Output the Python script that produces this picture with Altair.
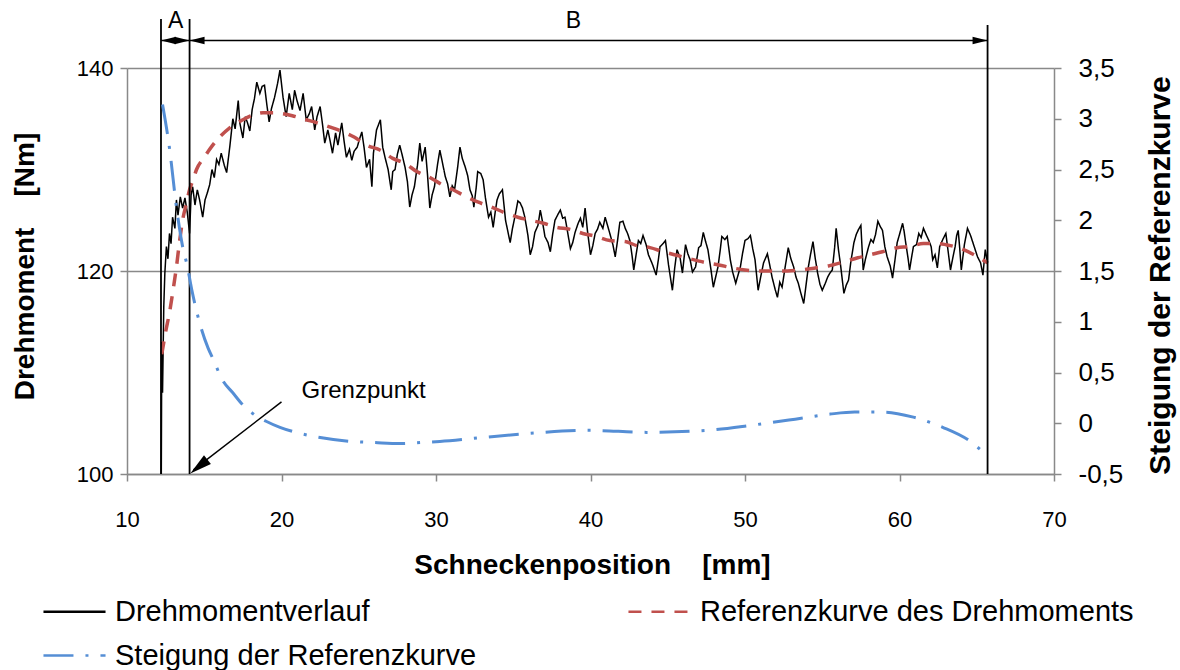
import altair as alt
import pandas as pd

# ---------------- data ----------------
torque_x = [
    12.22, 12.25, 12.30, 12.38, 12.45, 12.55, 12.65, 12.75, 12.85, 12.95,
    13.10, 13.20, 13.30, 13.45, 13.60, 13.75, 13.90, 14.05, 14.15, 14.25,
    14.40, 14.55, 14.70, 14.90, 15.05, 15.20, 15.35, 15.50, 15.65, 15.80,
    15.95, 16.10, 16.30, 16.45, 16.65, 16.85, 17.00, 17.20, 17.30, 17.50,
    17.65, 17.80, 17.95, 18.10, 18.25, 18.40, 18.60, 18.75, 18.90, 19.05,
    19.20, 19.35, 19.55, 19.75, 19.90, 20.10, 20.30, 20.50, 20.70, 20.85,
    21.00, 21.20, 21.40, 21.60, 21.80, 21.95, 22.15, 22.30, 22.50, 22.65,
    22.80, 23.00, 23.15, 23.30, 23.50, 23.65, 23.90, 24.05, 24.20, 24.40,
    24.55, 24.70, 24.90, 25.05, 25.20, 25.35, 25.50, 25.70, 25.85, 25.95,
    26.15, 26.40, 26.55, 26.70, 26.90, 27.10, 27.20, 27.35, 27.50, 27.65,
    27.80, 28.00, 28.15, 28.30, 28.45, 28.60, 28.80, 28.95, 29.10, 29.30,
    29.45, 29.60, 29.75, 29.90, 30.10, 30.25, 30.40, 30.60, 30.75, 30.90,
    31.05, 31.20, 31.40, 31.55, 31.70, 31.90, 32.05, 32.20, 32.35, 32.45,
    32.60, 32.70, 32.90, 33.05, 33.20, 33.40, 33.55, 33.70, 33.85, 33.95,
    34.10, 34.30, 34.40, 34.50, 34.65, 34.80, 34.95, 35.10, 35.30, 35.45,
    35.60, 35.75, 35.95, 36.10, 36.25, 36.40, 36.60, 36.75, 36.90, 37.05,
    37.25, 37.40, 37.55, 37.70, 37.90, 38.05, 38.20, 38.35, 38.50, 38.70,
    38.85, 39.00, 39.20, 39.35, 39.50, 39.65, 39.80, 40.00, 40.15, 40.30,
    40.45, 40.60, 40.80, 40.95, 41.10, 41.25, 41.45, 41.60, 41.75, 41.90,
    42.10, 42.25, 42.40, 42.55, 42.70, 42.80, 42.95, 43.10, 43.25, 43.40,
    43.60, 43.75, 44.00, 44.25, 44.40, 44.50, 44.70, 44.85, 45.05, 45.30,
    45.45, 45.60, 45.80, 45.95, 46.15, 46.30, 46.45, 46.60, 46.80, 47.00,
    47.15, 47.30, 47.45, 47.60, 47.80, 47.95, 48.10, 48.25, 48.40, 48.50,
    48.70, 48.85, 49.05, 49.20, 49.40, 49.55, 49.70, 49.85, 50.00, 50.20,
    50.35, 50.50, 50.65, 50.85, 51.00, 51.20, 51.45, 51.60, 51.75, 51.95,
    52.10, 52.25, 52.40, 52.60, 52.80, 52.95, 53.15, 53.30, 53.45, 53.60,
    53.80, 53.95, 54.10, 54.25, 54.40, 54.55, 54.70, 54.85, 55.00, 55.20,
    55.35, 55.50, 55.65, 55.80, 55.90, 56.05, 56.20, 56.40, 56.55, 56.70,
    56.85, 57.05, 57.20, 57.35, 57.50, 57.65, 57.80, 58.00, 58.15, 58.30,
    58.45, 58.60, 58.75, 58.90, 59.05, 59.20, 59.40, 59.55, 59.70, 59.85,
    60.00, 60.20, 60.30, 60.40, 60.55, 60.65, 60.80, 60.90, 61.10, 61.25,
    61.40, 61.55, 61.75, 61.90, 62.05, 62.15, 62.30, 62.45, 62.60, 62.80,
    63.00, 63.15, 63.30, 63.45, 63.60, 63.70, 63.80, 63.90, 64.00, 64.20,
    64.40, 64.60, 64.75, 64.90, 65.05, 65.25, 65.40, 65.55, 65.70,
]
torque_y = [
    100.0, 113.0, 108.0, 116.5, 119.8, 122.4, 121.2, 123.7, 122.7, 125.3,
    124.2, 127.0, 125.5, 127.3, 126.2, 127.2, 125.8, 123.7, 127.5, 128.3,
    126.5, 128.0, 127.0, 125.3, 127.0, 127.7, 128.5, 130.0, 129.2, 131.0,
    130.5, 131.6, 130.4, 129.7, 132.2, 135.0, 134.0, 136.8, 134.6, 133.1,
    135.2, 134.6, 133.8, 135.9, 137.0, 138.6, 137.5, 138.2, 138.3, 136.4,
    134.7, 136.0, 137.1, 138.5, 139.8, 137.1, 135.2, 137.5, 135.9, 137.8,
    136.8, 135.8, 137.5, 134.9, 135.5, 136.2, 133.9, 135.2, 136.2, 134.5,
    132.6, 133.9, 132.8, 131.6, 133.6, 132.4, 134.6, 132.8, 131.2, 132.0,
    130.9, 131.8, 132.2, 133.0, 133.7, 132.1, 130.2, 131.0, 128.3, 131.6,
    133.9, 134.9, 132.2, 131.2, 130.0, 128.0, 129.8, 130.0, 131.5, 132.4,
    131.5, 130.2, 128.8, 126.3, 127.5, 128.3, 130.4, 132.6, 130.8, 132.2,
    129.5, 126.2, 127.5, 128.3, 130.5, 131.9, 130.8, 129.3, 128.6, 127.3,
    128.4, 128.0, 130.2, 132.2, 131.1, 130.2, 129.4, 128.0, 127.4, 126.3,
    128.2, 129.8, 129.6, 129.0, 127.2, 125.3, 125.8, 124.3, 126.0, 127.0,
    127.6, 128.0, 126.5, 125.0, 123.9, 122.8, 124.2, 125.3, 126.9, 126.7,
    126.2, 125.3, 123.5, 121.6, 122.4, 123.8, 124.5, 126.0, 124.8, 123.4,
    122.8, 121.9, 123.6, 125.0, 125.6, 126.0, 125.2, 125.3, 124.0, 122.2,
    122.8, 123.8, 124.7, 125.2, 124.3, 126.2, 124.0, 121.6, 122.5, 123.7,
    124.1, 124.8, 124.2, 125.3, 124.5, 123.7, 122.6, 121.4, 123.0, 124.8,
    124.9, 124.2, 123.7, 123.0, 121.4, 120.1, 121.6, 123.0, 122.7, 123.5,
    122.6, 121.6, 120.7, 119.6, 121.2, 122.4, 122.7, 123.0, 120.6, 118.1,
    120.3, 122.1, 121.3, 119.8, 122.6, 121.7, 121.1, 119.9, 120.4, 122.3,
    122.5, 123.8, 122.9, 122.1, 120.1, 118.4, 119.4, 120.4, 122.1, 123.4,
    123.1, 123.4, 121.1, 119.9, 118.8, 119.6, 120.4, 121.8, 123.0, 123.2,
    123.5, 122.2, 121.1, 118.1, 119.3, 120.8, 121.7, 120.6, 119.4, 118.2,
    117.4, 118.9, 118.4, 120.4, 122.3, 121.3, 120.4, 119.4, 118.8, 117.9,
    116.8, 118.6, 120.4, 121.7, 122.9, 121.2, 119.8, 118.7, 118.1, 118.8,
    119.4, 119.8, 120.1, 122.3, 124.2, 122.1, 120.4, 117.8, 118.6, 119.1,
    120.9, 122.8, 123.6, 124.1, 124.5, 120.1, 121.2, 122.4, 123.1, 122.8,
    123.6, 124.9, 124.4, 124.0, 122.4, 121.4, 120.5, 119.3, 121.0, 122.8,
    123.6, 124.7, 123.9, 122.8, 121.3, 120.1, 121.5, 122.4, 122.6, 123.7,
    123.3, 124.2, 123.5, 123.0, 122.4, 121.1, 121.6, 120.3, 122.4, 123.1,
    123.7, 121.9, 120.1, 121.3, 122.4, 123.5, 124.0, 122.2, 120.1, 122.6,
    124.2, 123.5, 122.8, 122.1, 121.4, 120.8, 119.6, 122.1, 120.8,
]

ref_x = [12.25, 12.5, 12.75, 13.0, 13.2, 13.4, 13.6, 13.85, 14.05, 14.3,
         14.5, 15.0, 15.5, 16.0, 16.65, 17.5, 18.2, 18.8, 19.55, 20.1,
         20.7, 21.6, 22.3, 23.1, 24.0, 24.7, 25.5, 26.4, 27.2, 28.0,
         28.75, 29.5, 30.4, 31.1, 32.0, 32.7, 33.6, 34.35, 35.3, 36.1,
         36.95, 37.8, 38.7, 39.5, 40.4, 41.25, 42.25, 43.0, 43.85, 44.7,
         45.7, 46.45, 47.55, 48.3, 49.2, 50.0, 51.0, 51.85, 52.75, 53.6,
         54.55, 55.4, 56.4, 57.3, 58.1, 58.9, 59.85, 60.6, 61.55, 62.45,
         63.3, 64.15, 65.05, 65.7]
ref_y = [111.8, 114.0, 115.9, 118.3, 120.4, 122.9, 125.0, 126.7, 128.0, 129.1,
         130.0, 131.2, 132.3, 133.2, 134.1, 134.9, 135.4, 135.6, 135.6, 135.5,
         135.3, 134.9, 134.6, 134.2, 133.7, 133.2, 132.4, 131.9, 131.1, 130.6,
         129.8, 129.3, 128.5, 128.0, 127.3, 126.8, 126.3, 125.8, 125.3, 125.0,
         124.7, 124.3, 124.1, 123.7, 123.4, 123.0, 122.9, 122.5, 122.3, 121.9,
         121.5, 121.2, 120.8, 120.6, 120.3, 120.1, 120.0, 120.0, 120.0, 120.1,
         120.3, 120.5, 120.9, 121.3, 121.6, 121.9, 122.3, 122.4, 122.7, 122.7,
         122.5, 122.1, 121.4, 120.8]

slope_x = [12.3, 12.75, 13.2, 13.6, 13.9, 14.2, 14.7, 15.25, 15.55, 16.2,
           16.85, 17.5, 18.1, 19.0, 19.9, 21.2, 22.5, 24.6, 26.0, 27.65,
           29.0, 30.25, 33.05, 36.06, 39.9, 43.7, 47.5, 50.4, 53.25, 55.5,
           57.1, 59.0, 60.9, 62.8, 64.5, 65.6]
slope_y = [3.14, 2.71, 2.13, 1.74, 1.55, 1.31, 0.99, 0.74, 0.64, 0.42,
           0.30, 0.18, 0.10, 0.02, -0.04, -0.10, -0.14, -0.18, -0.19, -0.20,
           -0.19, -0.18, -0.14, -0.10, -0.07, -0.09, -0.07, -0.02, 0.04, 0.09,
           0.11, 0.11, 0.06, -0.04, -0.17, -0.31]

S_TORQUE = "Drehmomentverlauf"
S_REF = "Referenzkurve des Drehmoments"
S_SLOPE = "Steigung der Referenzkurve"
# legend order (filled column by column: left column first)
series = [S_TORQUE, S_SLOPE, S_REF]
x_ticks = [10, 20, 30, 40, 50, 60, 70]
left_ticks = [100, 120, 140]
right_ticks = [-0.5, 0, 0.5, 1, 1.5, 2, 2.5, 3, 3.5]

# annotation definitions (data units)
bounds_x = [12.2, 14.05, 65.7]
bounds_top = [144.83, 144.83, 144.24]
span_y = 142.7
head_x = [12.2, 14.05, 14.05, 65.7]
head_angle = [270, 90, 270, 90]
zone_labels = ["A", "B"]
zone_x = [13.15, 38.9]
zone_y = 144.6

# ---------------- styles ----------------
FONT = "Liberation Sans"
GRAY = "#898989"
COLORS = ["#000000", "#558ED5", "#C0504D"]
DASHES = [[1, 0], [30, 12, 3, 12], [13, 10]]
ARROW = "M0,0L-0.5,2L0.5,2Z"

W, H = 927, 406
PL, PT = 127, 68

df_t = pd.DataFrame({"x": torque_x, "y": torque_y, "s": S_TORQUE})
df_r = pd.DataFrame({"x": ref_x, "y": ref_y, "s": S_REF})
df_s = pd.DataFrame({"x": slope_x, "y": slope_y, "s": S_SLOPE})

x_enc = alt.X(
    "x:Q",
    scale=alt.Scale(domain=[10, 70], nice=False, zero=False),
    axis=alt.Axis(
        values=x_ticks, grid=False, domainColor=GRAY, tickColor=GRAY,
        domainWidth=1.5, tickWidth=1.5, tickSize=7, labelFontSize=22,
        labelPadding=28, labelColor="black", labelFont=FONT, labelFlush=False,
        title="Schneckenposition\u00a0\u00a0\u00a0\u00a0[mm]", titleFont=FONT,
        titleFontSize=28, titleFontWeight="bold", titleColor="black",
        titleX=465, titleY=91, titleBaseline="middle", titleAlign="center",
    ),
)

y_left = alt.Y(
    "y:Q",
    scale=alt.Scale(domain=[100, 140], nice=False, zero=False),
    axis=alt.Axis(
        values=left_ticks, grid=True, gridColor=GRAY, gridWidth=1.5,
        domainColor=GRAY, tickColor=GRAY, domainWidth=1.5, tickWidth=1.5,
        tickSize=7, labelFontSize=22, labelPadding=7, labelColor="black",
        labelFont=FONT, labelFlush=False,
        title="Drehmoment\u00a0\u00a0\u00a0\u00a0[Nm]", titleFont=FONT,
        titleFontSize=28, titleFontWeight="bold", titleColor="black",
        titleAngle=270, titleX=-102, titleY=198, titleBaseline="middle",
        titleAlign="center",
    ),
)

y_right = alt.Y(
    "y:Q",
    scale=alt.Scale(domain=[-0.5, 3.5], nice=False, zero=False),
    axis=alt.Axis(
        orient="right", values=right_ticks, grid=False, labelFlush=False,
        labelExpr="replace(toString(datum.value), '.', ',')",
        domainColor=GRAY, tickColor=GRAY, domainWidth=1.5, tickWidth=1.5,
        tickSize=7, labelFontSize=26, labelPadding=17, labelColor="black",
        labelFont=FONT,
        title="Steigung der Referenzkurve", titleFont=FONT, titleFontSize=30,
        titleFontWeight="bold", titleColor="black", titleAngle=270,
        titleX=106, titleY=207, titleBaseline="middle", titleAlign="center",
    ),
)

legend = alt.Legend(
    title=None, orient="none", legendX=-67, legendY=529, columns=2,
    symbolType="M-3,0L3,0", symbolSize=428, symbolStrokeWidth=2.5,
    labelFontSize=29, labelFont=FONT, labelColor="black", labelLimit=0,
    labelOffset=26, rowPadding=14, columnPadding=146, padding=0,
)
color_enc = alt.Color("s:N", scale=alt.Scale(domain=series, range=COLORS), legend=legend)
dash_enc = alt.StrokeDash("s:N", scale=alt.Scale(domain=series, range=DASHES), legend=legend)

black = alt.Chart(df_t).mark_line(strokeWidth=1.5).encode(
    x=x_enc, y=y_left, color=color_enc, strokeDash=dash_enc)
red = alt.Chart(df_r).mark_line(strokeWidth=3.5, interpolate="monotone").encode(
    x=x_enc, y=y_left, color=color_enc, strokeDash=dash_enc)
blue = alt.Chart(df_s).mark_line(strokeWidth=3, interpolate="monotone").encode(
    x=x_enc, y=y_right, color=color_enc, strokeDash=dash_enc)

df_b = pd.DataFrame({"x": bounds_x, "y": [100] * 3, "y2": bounds_top})
bounds = alt.Chart(df_b).mark_rule(color="black", strokeWidth=1.8).encode(
    x=x_enc, y=y_left, y2="y2:Q")

df_span = pd.DataFrame({"x": [bounds_x[0]], "x2": [bounds_x[2]], "y": [span_y]})
span = alt.Chart(df_span).mark_rule(color="black", strokeWidth=1.5).encode(
    x=x_enc, x2="x2:Q", y=y_left)

df_h = pd.DataFrame({"x": head_x, "y": [span_y] * 4, "a": head_angle})
heads = alt.Chart(df_h).mark_point(
    shape=ARROW, filled=True, color="black", opacity=1, size=225, strokeWidth=0
).encode(x=x_enc, y=y_left, angle=alt.Angle("a:Q", scale=None))

df_z = pd.DataFrame({"x": zone_x, "y": [zone_y] * 2, "t": zone_labels})
zones = alt.Chart(df_z).mark_text(
    font=FONT, fontSize=23, color="black", baseline="middle", align="center"
).encode(x=x_enc, y=y_left, text="t:N")

df_g = pd.DataFrame({"x": [21.3], "y": [107.5], "t": ["Grenzpunkt"]})
gtext = alt.Chart(df_g).mark_text(
    font=FONT, fontSize=24, color="black", baseline="alphabetic", align="left"
).encode(x=x_enc, y=y_left, text="t:N")

df_gl = pd.DataFrame({"x": [20.0], "y": [107.1], "x2": [14.3], "y2": [100.4]})
gline = alt.Chart(df_gl).mark_rule(color="black", strokeWidth=1.5).encode(
    x=x_enc, y=y_left, x2="x2:Q", y2="y2:Q")

df_gh = pd.DataFrame({"x": [14.1], "y": [100.05], "a": [231]})
ghead = alt.Chart(df_gh).mark_point(
    shape=ARROW, filled=True, color="black", opacity=1, size=484, strokeWidth=0
).encode(x=x_enc, y=y_left, angle=alt.Angle("a:Q", scale=None))

left_group = alt.layer(black, red, bounds, span, heads, zones, gtext, gline, ghead)

chart = (
    alt.layer(left_group, blue)
    .resolve_scale(y="independent")
    .properties(
        width=W, height=H,
        autosize=alt.AutoSizeParams(type="none"),
        padding={"left": PL, "top": PT, "right": 1180 - PL - W, "bottom": 670 - PT - H},
        background="white",
    )
    .configure_view(stroke=None)
)

chart.save("out.html", embed_options={"renderer": "svg", "actions": False})
